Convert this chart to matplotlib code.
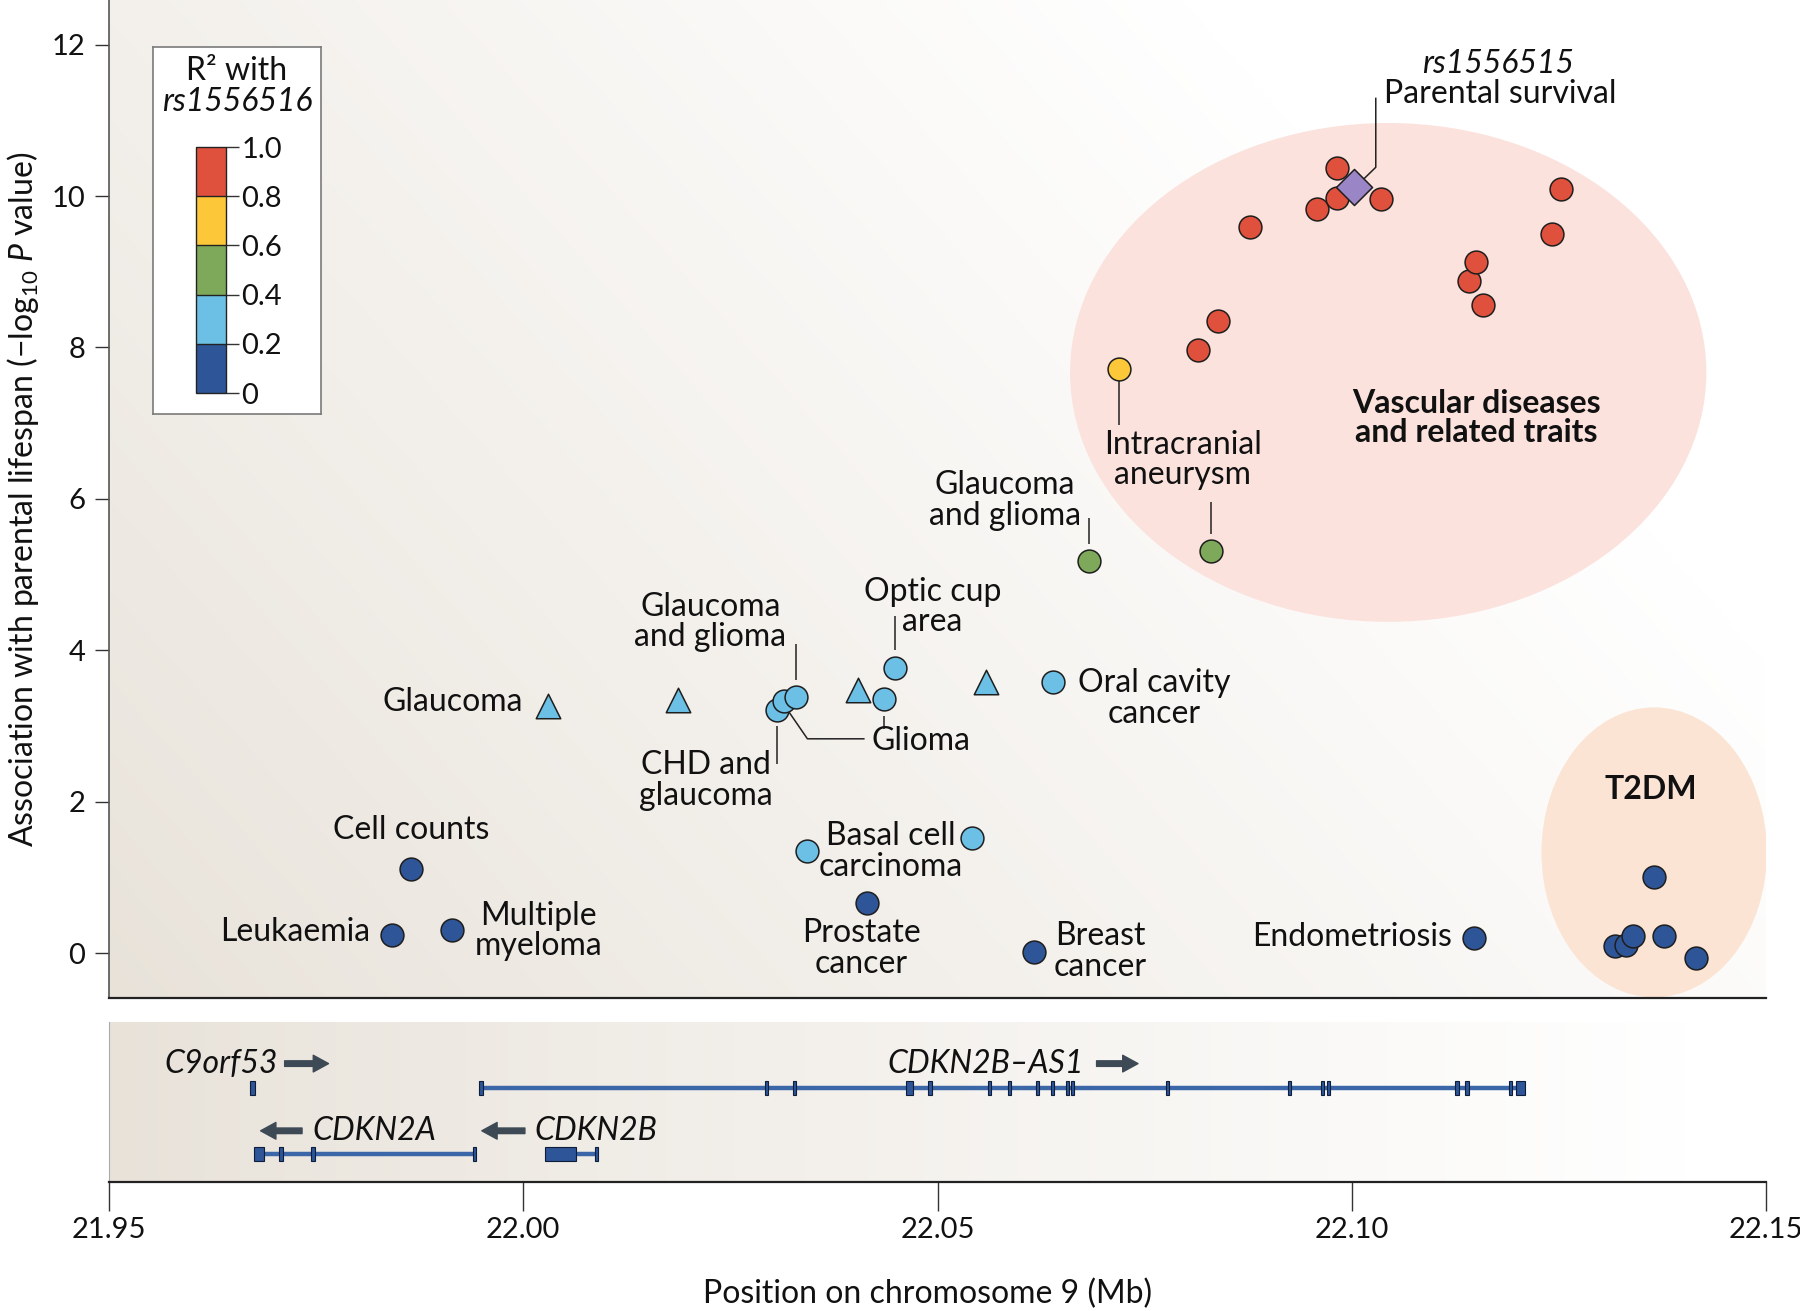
import numpy as np
import matplotlib
matplotlib.use('Agg')
import matplotlib.pyplot as plt
from matplotlib.patches import Ellipse, Rectangle
from matplotlib.colors import ListedColormap, BoundaryNorm
import matplotlib as mpl

plt.rcParams['font.family'] = ['Lato', 'DejaVu Sans']
plt.rcParams['mathtext.fontset'] = 'custom'
plt.rcParams['mathtext.rm'] = 'Lato'
plt.rcParams['mathtext.it'] = 'Lato:italic'

# ---------------- data ----------------
r2_colors = ['#2e5597', '#6cc0e6', '#7ea95a', '#fdc73a', '#e0513d']
r2_bounds = [0, 0.2, 0.4, 0.6, 0.8, 1.0]
r2_ticklabels = ['0', '0.2', '0.4', '0.6', '0.8', '1.0']

# R2 0-0.2 (dark blue circles)
dark_x = [21.9864, 21.9842, 21.9914, 22.0415, 22.0617, 22.1148,
          22.1365, 22.1318, 22.1331, 22.1340, 22.1377, 22.1415]
dark_y = [1.11, 0.24, 0.30, 0.66, 0.01, 0.20,
          1.00, 0.09, 0.10, 0.23, 0.23, -0.06]
# R2 0.2-0.4 circles
lblue_x = [22.0306, 22.0315, 22.0329, 22.0435, 22.0449, 22.0639, 22.0342, 22.0542]
lblue_y = [3.21, 3.33, 3.38, 3.36, 3.76, 3.58, 1.35, 1.52]
# R2 0.2-0.4 triangles
tri_x = [22.0030, 22.0187, 22.0404, 22.0559]
tri_y = [3.27, 3.34, 3.48, 3.58]
# R2 0.4-0.6
green_x = [22.0683, 22.0830]
green_y = [5.18, 5.31]
# R2 0.6-0.8
yellow_x = [22.0719]
yellow_y = [7.71]
# R2 0.8-1.0
red_x = [22.0814, 22.0839, 22.0877, 22.0958, 22.0982, 22.0982, 22.1035,
         22.1142, 22.1150, 22.1158, 22.1242, 22.1253]
red_y = [7.97, 8.35, 9.59, 9.83, 10.37, 9.97, 9.96,
         8.88, 9.13, 8.56, 9.50, 10.09]
# lead SNP
lead_x = [22.1003]
lead_y = [10.12]

# genes
as1_span = (21.9947, 22.1205)
as1_exons = [21.9949, 22.0294, 22.0327, 22.0466, 22.0491, 22.0563, 22.0587,
             22.0621, 22.0639, 22.0657, 22.0663, 22.0778, 22.0925, 22.0965,
             22.0972, 22.1127, 22.1139, 22.1192, 22.1204]
as1_widths = [0.0004, 0.0004, 0.0004, 0.0009, 0.0004, 0.0004, 0.0004,
              0.0004, 0.0004, 0.0004, 0.0004, 0.0004, 0.0004, 0.0004,
              0.0004, 0.0004, 0.0004, 0.0004, 0.0011]
c9_exons = [21.9673]
c9_widths = [0.0006]
cdkn2a_span = (21.9676, 21.9941)
cdkn2a_exons = [21.9681, 21.97076, 21.9746, 21.9941]
cdkn2a_widths = [0.0012, 0.0004, 0.0005, 0.0004]
cdkn2b_span = (22.0045, 22.0088)
cdkn2b_exons = [22.0045, 22.0088]
cdkn2b_widths = [0.0038, 0.0004]

xticks = [21.95, 22.00, 22.05, 22.10, 22.15]
xticklabels = ['21.95', '22.00', '22.05', '22.10', '22.15']
yticks = [0, 2, 4, 6, 8, 10, 12]

# ---------------- figure ----------------
W, H = 1800, 1311
fig = plt.figure(figsize=(W / 100, H / 100), dpi=100)
fig.patch.set_facecolor('white')

ax = fig.add_axes([109 / W, 1 - 998 / H, 1657 / W, 998 / H])
gax = fig.add_axes([109 / W, 1 - 1182 / H, 1657 / W, 160 / H])

beige = np.array([232, 226, 217]) / 255.0
white = np.array([1.0, 1.0, 1.0])

# gradient backgrounds
nx, ny = 400, 300
xx, yy = np.meshgrid(np.linspace(0, 1, nx), np.linspace(1, 0, ny))
t = np.clip(0.85 * xx + 0.45 * yy, 0, 1) ** 0.9
img = beige[None, None, :] * (1 - t[..., None]) + white[None, None, :] * t[..., None]
ax.imshow(img, extent=[0, 1, 0, 1], transform=ax.transAxes, aspect='auto', zorder=0,
          interpolation='bilinear')
xx2 = np.linspace(0, 1, nx)[None, :].repeat(20, axis=0)
t2 = np.clip(xx2 * 1.05, 0, 1) ** 0.9
img2 = beige[None, None, :] * (1 - t2[..., None]) + white[None, None, :] * t2[..., None]
gax.imshow(img2, extent=[0, 1, 0, 1], transform=gax.transAxes, aspect='auto', zorder=0,
           interpolation='bilinear')

# ellipses
ax.add_patch(Ellipse((22.1044, 7.67), 0.0768, 6.59, facecolor='#fbe2dc',
                     edgecolor='none', zorder=1))
ax.add_patch(Ellipse((22.1365, 1.33), 0.0272, 3.83, facecolor='#fbe4d4',
                     edgecolor='none', zorder=1))

# connector lines
lc = '#222222'
lw = 1.1
def seg(xs, ys):
    ax.plot(xs, ys, color=lc, lw=lw, zorder=2, solid_capstyle='butt')

seg([22.0329, 22.0329], [3.61, 4.08])        # glaucoma and glioma (blue)
seg([22.0449, 22.0449], [4.00, 4.45])        # optic cup
seg([22.0321, 22.0343, 22.0412], [3.18, 2.83, 2.83])  # glioma
seg([22.0435, 22.0435], [3.13, 2.96])        # glioma 2
seg([22.0306, 22.0306], [3.00, 2.50])        # CHD
seg([22.0683, 22.0683], [5.40, 5.75])        # green glaucoma and glioma
seg([22.0830, 22.0830], [5.53, 5.96])        # intracranial green
seg([22.0719, 22.0719], [7.56, 6.98])        # intracranial yellow
seg([22.1029, 22.1029, 22.1013], [11.30, 10.38, 10.21])  # parental survival

ms = 270
ec = '#1e1e1e'
ax.scatter(dark_x, dark_y, s=ms, c=r2_colors[0], edgecolors=ec, linewidths=1.1, zorder=4)
ax.scatter(lblue_x, lblue_y, s=ms, c=r2_colors[1], edgecolors=ec, linewidths=1.1, zorder=4)
ax.scatter(tri_x, tri_y, s=ms * 1.15, c=r2_colors[1], marker='^', edgecolors=ec,
           linewidths=1.1, zorder=4)
ax.scatter(green_x, green_y, s=ms, c=r2_colors[2], edgecolors=ec, linewidths=1.1, zorder=4)
ax.scatter(yellow_x, yellow_y, s=ms, c=r2_colors[3], edgecolors=ec, linewidths=1.1, zorder=4)
ax.scatter(red_x, red_y, s=ms, c=r2_colors[4], edgecolors=ec, linewidths=1.1, zorder=4)
ax.scatter(lead_x, lead_y, s=ms * 1.25, c='#9a85c6', marker='D', edgecolors=ec,
           linewidths=1.1, zorder=5)

fs = 23
tc = '#111111'
def txt(x, y, s, ha='center', va='center', **kw):
    ax.text(x, y, s, ha=ha, va=va, fontsize=kw.pop('fontsize', fs), color=tc,
            linespacing=1.02, zorder=6, multialignment='center', **kw)

txt(22.0000, 3.32, 'Glaucoma', ha='right')
txt(22.0226, 4.37, 'Glaucoma\nand glioma')
txt(22.0494, 4.57, 'Optic cup\narea')
txt(22.0420, 2.80, 'Glioma', ha='left')
txt(22.0220, 2.28, 'CHD and\nglaucoma')
txt(22.0670, 3.36, 'Oral cavity\ncancer', ha='left')
txt(21.9865, 1.62, 'Cell counts')
txt(21.9815, 0.28, 'Leukaemia', ha='right')
txt(21.9941, 0.29, 'Multiple\nmyeloma', ha='left')
txt(22.0444, 1.34, 'Basal cell\ncarcinoma')
txt(22.0408, 0.06, 'Prostate\ncancer')
txt(22.0696, 0.02, 'Breast\ncancer')
txt(22.1121, 0.21, 'Endometriosis', ha='right')
txt(22.0581, 5.98, 'Glaucoma\nand glioma')
txt(22.0796, 6.51, 'Intracranial\naneurysm')
txt(22.1177, 11.75, 'rs1556515', style='italic')
txt(22.1039, 11.35, 'Parental survival', ha='left')
txt(22.1150, 7.07, 'Vascular diseases\nand related traits', fontweight='bold')
txt(22.1361, 2.16, 'T2DM', fontweight='bold')

ax.set_xlim(21.95, 22.15)
ax.set_ylim(-0.594, 12.59)
ax.set_xticks([])
ax.set_yticks(yticks)
ax.set_yticklabels([str(v) for v in yticks])
ax.tick_params(axis='y', direction='out', length=10, width=1.0, labelsize=21,
               pad=7, colors='#333333', labelcolor=tc)
for s in ['top', 'right']:
    ax.spines[s].set_visible(False)
ax.spines['left'].set_color('#555555')
ax.spines['bottom'].set_color('#222222')
ax.spines['left'].set_linewidth(1.2)
ax.spines['bottom'].set_linewidth(1.6)
ax.set_ylabel('Association with parental lifespan (−log$_{10}$ $P$ value)',
              fontsize=23, color=tc, labelpad=8)

# ---------------- gene panel ----------------
gene_c = '#2e5597'
line_c = '#3b67a8'
def gene(span, exons, widths, y, h=0.085):
    if span is not None:
        gax.plot(span, [y, y], color=line_c, lw=3.2, zorder=2, solid_capstyle='butt')
    for cx, w in zip(exons, widths):
        gax.add_patch(Rectangle((cx - w / 2, y - h / 2), w, h, facecolor=gene_c,
                                edgecolor='#0d1d3a', lw=0.8, zorder=3))

gene(as1_span, as1_exons, as1_widths, 0.5875)
gene(None, c9_exons, c9_widths, 0.5875)
gene(cdkn2a_span, cdkn2a_exons, cdkn2a_widths, 0.175)
gene(cdkn2b_span, cdkn2b_exons, cdkn2b_widths, 0.175)

gfs = 23
gax.text(21.9704, 0.737, 'C9orf53', ha='right', va='center', fontsize=gfs,
         style='italic', color=tc)
gax.text(22.0440, 0.737, 'CDKN2B–AS1', ha='left', va='center', fontsize=gfs,
         style='italic', color=tc)
gax.text(21.9745, 0.32, 'CDKN2A', ha='left', va='center', fontsize=gfs,
         style='italic', color=tc)
gax.text(22.0014, 0.32, 'CDKN2B', ha='left', va='center', fontsize=gfs,
         style='italic', color=tc)

arrow_kw = dict(arrowstyle='simple,head_length=0.55,head_width=0.6,tail_width=0.2',
                color='#3d4a55', mutation_scale=20, shrinkA=0, shrinkB=0)
def garrow(x0, x1, y):
    gax.annotate('', xy=(x1, y), xytext=(x0, y), xycoords='data',
                 arrowprops=arrow_kw, zorder=4)
garrow(21.9712, 21.9765, 0.74)
garrow(22.0692, 22.0742, 0.74)
garrow(21.9733, 21.9683, 0.32)
garrow(22.0002, 21.9950, 0.32)

gax.set_xlim(21.95, 22.15)
gax.set_ylim(0, 1)
gax.set_yticks([])
gax.set_xticks(xticks)
gax.set_xticklabels(xticklabels)
gax.tick_params(axis='x', direction='out', length=21, width=1.0, labelsize=21,
                pad=4, colors='#333333', labelcolor=tc)
for s in ['top', 'right']:
    gax.spines[s].set_visible(False)
gax.spines['left'].set_color('#aaaaaa')
gax.spines['left'].set_linewidth(0.8)
gax.spines['bottom'].set_color('#222222')
gax.spines['bottom'].set_linewidth(1.6)
gax.set_xlabel('Position on chromosome 9 (Mb)', fontsize=23, color=tc, labelpad=26)
gax.xaxis.label.set_x(0.494)

# ---------------- legend ----------------
lax = fig.add_axes([153 / W, 1 - 414 / H, 168 / W, 367 / H])
lax.set_xticks([]); lax.set_yticks([])
lax.set_facecolor('white')
for s in lax.spines.values():
    s.set_color('#7a7a7a'); s.set_linewidth(1.2)
fig.text(237 / W, 1 - 71 / H, 'R² with', ha='center', va='center', fontsize=23, color=tc)
fig.text(237 / W, 1 - 102 / H, 'rs1556516', ha='center', va='center', fontsize=23,
         color=tc, style='italic')
cax = fig.add_axes([196 / W, 1 - 393 / H, 30 / W, 246 / H])
cmap = ListedColormap(r2_colors)
norm = BoundaryNorm(r2_bounds, cmap.N)
cb = fig.colorbar(mpl.cm.ScalarMappable(norm=norm, cmap=cmap), cax=cax,
                  orientation='vertical', ticks=r2_bounds)
cb.set_ticklabels(r2_ticklabels)
cb.outline.set_edgecolor('#222222')
cb.outline.set_linewidth(1.0)
cax.tick_params(length=9, width=1.0, labelsize=21, pad=2, colors='#333333', labelcolor=tc)
for b in r2_bounds[1:-1]:
    cax.axhline(b, color='#222222', lw=1.0)

fig.savefig('out.png', dpi=100, facecolor='white')
